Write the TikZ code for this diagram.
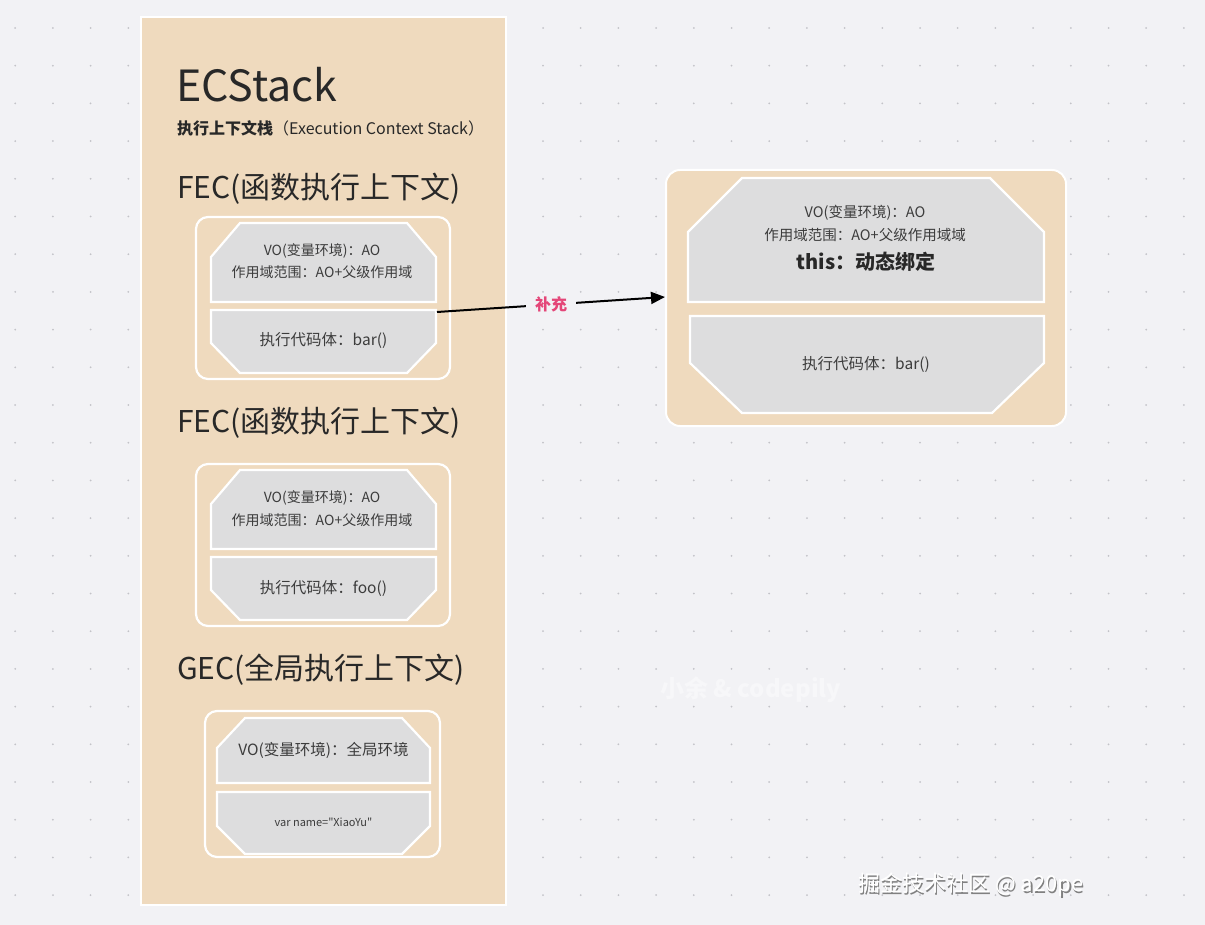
\documentclass[tikz,border=0pt]{standalone}
\usepackage{fontspec}
\setmainfont{Noto Sans CJK SC}
\newfontfamily\plainf{Noto Sans CJK SC}
\usetikzlibrary{arrows.meta}
\definecolor{bgc}{RGB}{242,242,245}
\definecolor{beige}{RGB}{239,218,190}
\definecolor{gshape}{RGB}{221,221,222}
\definecolor{txt}{RGB}{40,40,40}
\definecolor{txt2}{RGB}{60,60,60}
\definecolor{pinkc}{RGB}{228,70,120}
\definecolor{dotc}{RGB}{195,195,200}
\newcommand\octtop[6]{\draw[gbox] (#1+#5,#2) -- (#3-#5,#2) -- (#3,#2+#6) -- (#3,#4) -- (#1,#4) -- (#1,#2+#6) -- cycle;}
\newcommand\octbot[6]{\draw[gbox] (#1,#2) -- (#3,#2) -- (#3,#4-#6) -- (#3-#5,#4) -- (#1+#5,#4) -- (#1,#4-#6) -- cycle;}
\tikzset{
  gbox/.style={fill=gshape, draw=white, line width=2.2pt, line join=miter},
  panel/.style={fill=beige, draw=white, line width=2pt},
  inner/.style={fill=beige, draw=white, line width=2.2pt, rounded corners=12pt},
  big/.style={font=\fontsize{30}{34}\selectfont, text=txt, anchor=west, inner sep=0pt},
  small/.style={font=\fontsize{14}{16}\selectfont, text=txt2, inner sep=0pt},
  smallr/.style={font=\fontsize{14.5}{16}\selectfont, text=txt2, inner sep=0pt},
  mid/.style={font=\fontsize{15.5}{18}\selectfont, text=txt2, inner sep=0pt},
}
\begin{document}
\begin{tikzpicture}[x=1pt,y=-1pt]
\fill[bgc] (0,0) rectangle (1205,925);
\useasboundingbox (0,0) rectangle (1205,925);
% dot grid
\foreach \i in {0,...,31}{
  \foreach \j in {0,...,24}{
    \fill[dotc] (15.2+37.7*\i, 28+37.7*\j) circle (1);
  }
}
% left panel
\draw[panel] (141,17) rectangle (506,905);
\node[anchor=west, inner sep=0pt, font=\fontsize{43}{47}\selectfont, text=txt] (title) at (176,85) {ECStack};
\node[anchor=west, inner sep=0pt, font=\fontsize{16}{18}\selectfont, text=txt] (subtitle) at (177,128) {\textbf{执行上下文栈}（Execution Context Stack）};

\node[big] (fec1) at (177,189) {FEC(函数执行上下文)};
\draw[inner] (196,217) rectangle (450,379);
\octtop{211}{223}{436}{302}{29}{34}
\octbot{211}{310}{436}{373}{29}{30}
\node[small] (vo1) at (322,251) {VO(变量环境)：AO};
\node[small] (sc1) at (322,272) {作用域范围：AO+父级作用域};
\node[mid] (code1) at (323.5,341) {执行代码体：bar()};

\node[big] (fec2) at (177,423) {FEC(函数执行上下文)};
\draw[inner] (196,464) rectangle (450,626);
\octtop{211}{470}{436}{549}{29}{34}
\octbot{211}{557}{436}{620}{29}{30}
\node[small] (vo2) at (322,498) {VO(变量环境)：AO};
\node[small] (sc2) at (322,520) {作用域范围：AO+父级作用域};
\node[mid] (code2) at (323.5,588) {执行代码体：foo()};

\node[big] (gec) at (177,670) {GEC(全局执行上下文)};
\draw[inner] (205,711) rectangle (440,857);
\octtop{217}{718}{430}{783}{28}{30}
\octbot{217}{792}{430}{854}{28}{28}
\node[mid] (vog) at (323.5,750) {VO(变量环境)：全局环境};
\node[inner sep=0pt, font=\plainf\fontsize{11}{13}\selectfont, text=txt2] (var) at (323.5,822) {var name="XiaoYu"};

% right box
\draw[fill=beige, draw=white, line width=2pt, rounded corners=14pt] (666,170) rectangle (1066,426);
\octtop{688}{178}{1044}{302}{54}{54}
\octbot{690}{316}{1044}{413}{52}{50}
\node[smallr] (vor) at (865,213) {VO(变量环境)：AO};
\node[smallr] (scr) at (865,235) {作用域范围：AO+父级作用域域};
\node[inner sep=0pt, font=\fontsize{20}{24}\selectfont\bfseries, text=txt] (thisr) at (866,262) {this：动态绑定};
\node[mid] (coder) at (866,365) {执行代码体：bar()};

% arrow
\coordinate (src) at (437,312);
\coordinate (dst) at (665,297);
\draw[line width=2pt, -{Triangle[length=14pt,width=12pt]}] (src) -- node[fill=bgc, inner sep=0pt, minimum width=50pt, minimum height=18pt, font=\fontsize{16}{18}\selectfont\bfseries, text=pinkc] (lbl) {补充} (dst);

% watermarks
\node[anchor=west, inner sep=0pt, font=\fontsize{24}{26}\selectfont\bfseries, text=white!35!bgc] (wm1) at (660,690) {小余 \& codepily};
\node[anchor=west, inner sep=0pt, font=\fontsize{22}{24}\selectfont, text=gray] (wm2s) at (859.5,886.5) {掘金技术社区 @ a20pe};
\node[anchor=west, inner sep=0pt, font=\fontsize{22}{24}\selectfont, text=white] (wm2) at (858,885) {掘金技术社区 @ a20pe};
\end{tikzpicture}
\end{document}
